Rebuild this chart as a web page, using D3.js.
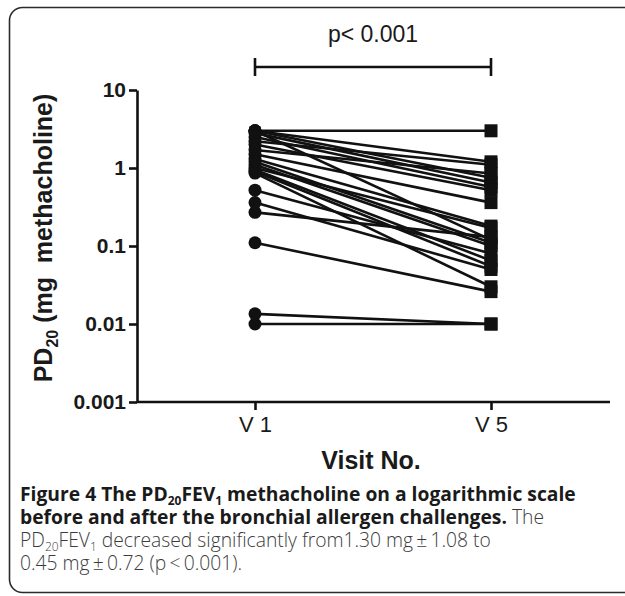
<!DOCTYPE html>
<html>
<head>
<meta charset="utf-8">
<script src="https://cdn.jsdelivr.net/npm/d3@7"></script>
<style>
  body { margin: 0; background: #fff; }
  svg text { white-space: pre; }
</style>
</head>
<body>
<div id="chart"></div>
<script>
// Visits on the x axis
var visits = ["V 1", "V 5"];

// PD20 (mg methacholine) per subject, V 1 then V 5 (same order = same subject)
var pd20V1 = [3.0, 3.0, 3.0, 3.0, 2.8, 2.5, 2.2, 2.0, 1.7, 1.5, 1.3, 1.2, 1.1, 1.0, 0.95, 0.9, 0.86, 0.52, 0.36, 0.27, 0.11, 0.0135, 0.01];
var pd20V5 = [3.0, 1.2, 0.75, 0.12, 0.65, 0.57, 1.1, 0.52, 0.85, 0.36, 0.18, 0.11, 0.1, 0.17, 0.065, 0.055, 0.03, 0.08, 0.05, 0.13, 0.026, 0.01, 0.01];

// Log axis ticks
var yTicks      = [0.001, 0.01, 0.1, 1, 10];
var yTickLabels = ["0.001", "0.01", "0.1", "1", "10"];

var pLabel = "p< 0.001";

var width  = 625,
    height = 596;

var svg = d3.select("#chart")
  .append("svg")
    .attr("width", width)
    .attr("height", height);

// rounded figure frame (open past the right edge)
svg.append("rect")
   .attr("x", 9.5)
   .attr("y", 7.5)
   .attr("width", 660)
   .attr("height", 585)
   .attr("rx", 13)
   .style("fill", "none")
   .style("stroke", "#2b2b2b")
   .style("stroke-width", 1.6);

var x = d3.scalePoint()
          .domain(visits)
          .range([255, 491]);

var y = d3.scaleLog()
          .domain([0.001, 10])
          .range([402, 90]);

var axisFont = "'Liberation Sans', Arial, sans-serif";

// y axis
var yAxis = svg.append("g")
   .attr("transform", "translate(137,0)")
   .call(d3.axisLeft(y)
           .tickValues(yTicks)
           .tickFormat(function(d, i) { return yTickLabels[i]; })
           .tickSize(8)
           .tickSizeOuter(0)
           .tickPadding(3));

yAxis.select(".domain").style("stroke", "#111").style("stroke-width", 2.6);
yAxis.selectAll(".tick line").style("stroke", "#111").style("stroke-width", 2.6);
yAxis.selectAll(".tick text")
     .style("font-family", axisFont)
     .style("font-weight", "bold")
     .style("font-size", "21px")
     .style("fill", "#1a1a1a");

// x axis
var xAxis = svg.append("g")
   .attr("transform", "translate(0,402)")
   .call(d3.axisBottom(x).tickSize(8).tickSizeOuter(0).tickPadding(6));

xAxis.select(".domain").remove();
xAxis.append("line")
     .attr("x1", 137)
     .attr("x2", 610)
     .style("stroke", "#111")
     .style("stroke-width", 2.6);
xAxis.selectAll(".tick line").style("stroke", "#111").style("stroke-width", 2.6);
xAxis.selectAll(".tick text")
     .style("font-family", axisFont)
     .style("font-size", "22px")
     .style("fill", "#1a1a1a");

// axis titles
svg.append("text")
   .attr("x", 371)
   .attr("y", 469)
   .attr("text-anchor", "middle")
   .style("font-family", axisFont)
   .style("font-weight", "bold")
   .style("font-size", "25px")
   .style("fill", "#1a1a1a")
   .text("Visit No.");

var yTitle = svg.append("text")
   .attr("transform", "translate(52,238) rotate(-90)")
   .attr("text-anchor", "middle")
   .style("font-family", axisFont)
   .style("font-weight", "bold")
   .style("font-size", "25px")
   .style("fill", "#1a1a1a");
yTitle.append("tspan").text("PD");
yTitle.append("tspan").attr("dy", 6).style("font-size", "16px").text("20");
yTitle.append("tspan").attr("dy", -6).text(" (mg  methacholine)");

// paired lines
var pairs = pd20V1.map(function(d, i) { return [d, pd20V5[i]]; });

svg.append("g")
   .selectAll("line")
   .data(pairs)
   .enter()
   .append("line")
     .attr("x1", x(visits[0]))
     .attr("x2", x(visits[1]))
     .attr("y1", function(d) { return y(d[0]); })
     .attr("y2", function(d) { return y(d[1]); })
     .style("stroke", "#111")
     .style("stroke-width", 2.6);

svg.append("g")
   .selectAll("circle")
   .data(pd20V1)
   .enter()
   .append("circle")
     .attr("cx", x(visits[0]))
     .attr("cy", function(d) { return y(d); })
     .attr("r", 6.5)
     .style("fill", "#111");

svg.append("g")
   .selectAll("rect")
   .data(pd20V5)
   .enter()
   .append("rect")
     .attr("x", x(visits[1]) - 6.5)
     .attr("y", function(d) { return y(d) - 6.5; })
     .attr("width", 13)
     .attr("height", 13)
     .style("fill", "#111");

// significance bracket
var bracketY = 67;
var br = svg.append("g").style("stroke", "#111").style("stroke-width", 2.6);
br.append("line")
  .attr("x1", x(visits[0])).attr("x2", x(visits[1]))
  .attr("y1", bracketY).attr("y2", bracketY);
visits.forEach(function(v) {
  br.append("line")
    .attr("x1", x(v)).attr("x2", x(v))
    .attr("y1", bracketY - 9).attr("y2", bracketY + 9);
});
svg.append("text")
   .attr("x", (x(visits[0]) + x(visits[1])) / 2)
   .attr("y", 42)
   .attr("text-anchor", "middle")
   .style("font-family", axisFont)
   .style("font-size", "23px")
   .style("fill", "#1a1a1a")
   .text(pLabel);

// caption: size the font so the first line fills the frame width like the original
var capFont = "'Open Sans', 'Noto Sans', sans-serif";
var capSize = 17;
var caption = svg.append("g")
   .style("font-family", capFont);

var capLines = [
  [{t: "Figure 4 The PD", b: 1}, {t: "20", b: 1, sub: 1}, {t: "FEV", b: 1, up: 1}, {t: "1", b: 1, sub: 1}, {t: " methacholine on a logarithmic scale", b: 1, up: 1}],
  [{t: "before and after the bronchial allergen challenges.", b: 1}, {t: " The"}],
  [{t: "PD"}, {t: "20", sub: 1}, {t: "FEV", up: 1}, {t: "1", sub: 1}, {t: " decreased significantly from1.30 mg\u2009\u00b1\u20091.08 to", up: 1}],
  [{t: "0.45 mg\u2009\u00b1\u20090.72 (p\u2009<\u20090.001)."}]
];

function drawCaption(size) {
  caption.selectAll("*").remove();
  capLines.forEach(function(runs, i) {
    var line = caption.append("text")
       .attr("x", 20)
       .attr("y", 501 + i * 23)
       .style("font-size", size + "px");
    runs.forEach(function(r) {
      var t = line.append("tspan").text(r.t);
      if (r.b) t.style("font-weight", "bold").style("fill", "#1a1a1a");
      else t.style("font-weight", "300").style("fill", "#3c3c3c");
      if (r.sub) t.attr("dy", size * 0.2).style("font-size", (size * 0.62) + "px");
      if (r.up) t.attr("dy", -size * 0.2);
    });
  });
}

drawCaption(capSize);
var firstLen = caption.select("text").node().getComputedTextLength();
drawCaption(capSize * 556 / firstLen);
</script>
</body>
</html>
